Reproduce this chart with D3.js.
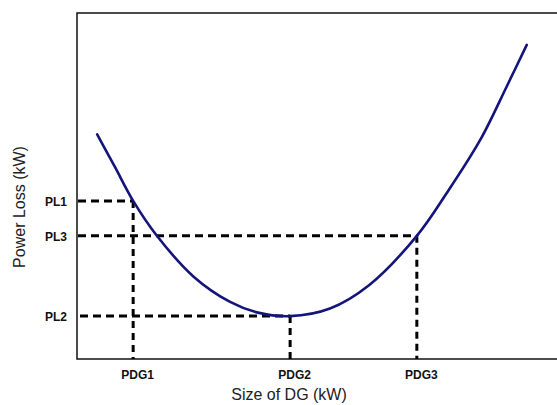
<!DOCTYPE html>
<html><head><meta charset="utf-8">
<script src="https://cdn.jsdelivr.net/npm/d3@7"></script>
<style>
html,body{margin:0;padding:0;background:#fff;}
svg{display:block;}
</style></head>
<body>
<svg id="chart" width="557" height="405"></svg>
<script>
// Curve data (abstract units)
const sizeDG = [4.2, 7.9, 11.7, 16.6, 24.3, 31.9, 37.7, 44.4, 52.7, 60.9, 70.8, 77.0, 84.0, 89.5, 93.7];
const powerLoss = [64.9, 55.5, 45.7, 35.7, 23.8, 16.5, 13.4, 12.4, 14.6, 21.4, 35.6, 47.9, 63.3, 78.7, 90.8];

// Marked points
const xTickLabels = ["PDG1", "PDG2", "PDG3"];
const xTickValues = [11.7, 44.4, 70.8];
const yTickLabels = ["PL1", "PL3", "PL2"];
const yTickValues = [45.7, 35.6, 12.4];
const markerX = [11.7, 70.8, 44.4]; // x of curve point for each PL

(function () {
const svg = d3.select("#chart");
const mLeft = 77, mRight = 557, mTop = 13, mBottom = 359;

const x = d3.scaleLinear().domain([0, 100]).range([mLeft, mRight]);
const y = d3.scaleLinear().domain([0, 100]).range([mBottom, mTop]);

// frame
svg.append("rect").attr("x", mLeft).attr("y", mTop)
  .attr("width", mRight - mLeft + 4).attr("height", mBottom - mTop)
  .attr("fill", "none").attr("stroke", "#111").attr("stroke-width", 1.5);

// dashed guides
const g = svg.append("g");
yTickValues.forEach((v, i) => {
  const mx = markerX[i];
  g.append("line")
    .attr("x1", x(0) + (i === 2 ? 3 : 1)).attr("x2", x(mx))
    .attr("y1", y(v)).attr("y2", y(v))
    .attr("stroke", "#000").attr("stroke-width", 3).attr("stroke-dasharray", "8,5");
  g.append("line")
    .attr("x1", x(mx)).attr("x2", x(mx))
    .attr("y1", y(v)).attr("y2", y(0))
    .attr("stroke", "#000").attr("stroke-width", 3).attr("stroke-dasharray", "7,5");
});

// curve
const pts = sizeDG.map((d, i) => [d, powerLoss[i]]);
svg.append("path").datum(pts)
  .attr("d", d3.line().x(d => x(d[0])).y(d => y(d[1])).curve(d3.curveCatmullRom.alpha(0.5)))
  .attr("fill", "none").attr("stroke", "#14147a").attr("stroke-width", 2.6)
  .attr("stroke-linecap", "round");

// axes
const xAxis = d3.axisBottom(x).tickValues(xTickValues).tickSize(0)
  .tickFormat((d, i) => xTickLabels[i]);
const gx = svg.append("g").attr("transform", `translate(0,${mBottom})`).call(xAxis);
gx.select(".domain").remove();
gx.selectAll("text").attr("dy", 0).attr("y", 20).attr("dx", 4)
  .style("font-family", "Liberation Sans, Arial, sans-serif")
  .style("font-weight", "bold").style("font-size", "12px").attr("fill", "#111");

const yAxis = d3.axisLeft(y).tickValues(yTickValues).tickSize(0)
  .tickFormat((d, i) => yTickLabels[i]);
const gy = svg.append("g").attr("transform", `translate(${mLeft},0)`).call(yAxis);
gy.select(".domain").remove();
gy.selectAll("text").attr("x", -10).attr("dy", "0.4em")
  .style("font-family", "Liberation Sans, Arial, sans-serif")
  .style("font-weight", "bold").style("font-size", "12px").attr("fill", "#111");

// axis titles
svg.append("text").attr("x", 289).attr("y", 400).attr("text-anchor", "middle")
  .style("font-family", "Liberation Sans, Arial, sans-serif").style("font-size", "16px")
  .attr("fill", "#222").text("Size of DG (kW)");
svg.append("text").attr("transform", "translate(25,207) rotate(-90)").attr("text-anchor", "middle")
  .style("font-family", "Liberation Sans, Arial, sans-serif").style("font-size", "16px")
  .attr("fill", "#222").text("Power Loss (kW)");
})();
</script>
</body></html>
